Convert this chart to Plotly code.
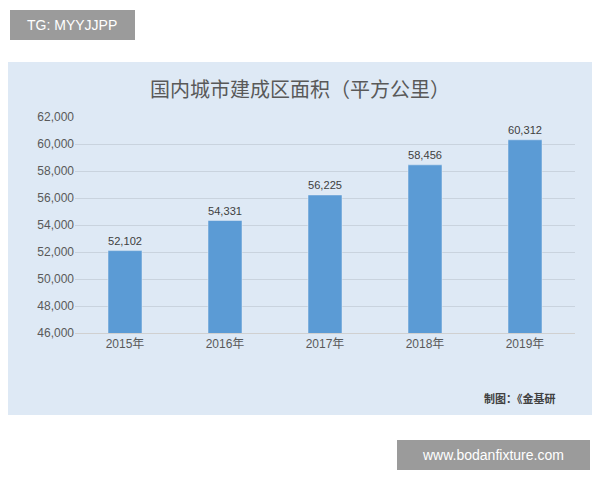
import plotly.graph_objects as go

years = ["2015年", "2016年", "2017年", "2018年", "2019年"]
area = [52102, 54331, 56225, 58456, 60312]
y_ticks = list(range(46000, 62001, 2000))

W, H = 600, 480
OFF = 8  # page body margin
def px(x): return (x - OFF) / W
def py(y): return 1 - (y - OFF) / H

fig = go.Figure(go.Bar(
    x=years, y=area, width=0.34, marker_color="#5b9bd5",
    text=[f"{v:,}" for v in area], textposition="outside",
    textfont=dict(size=13, color="#404040"), cliponaxis=False,
))

shapes = [
    dict(type="rect", xref="paper", yref="paper", x0=px(0), x1=px(600), y0=py(415), y1=py(62),
         fillcolor="#dee9f5", line_width=0, layer="below"),
    dict(type="rect", xref="paper", yref="paper", x0=px(10), x1=px(135), y0=py(40), y1=py(10),
         fillcolor="#9b9b9b", line_width=0, layer="below"),
    dict(type="rect", xref="paper", yref="paper", x0=px(397), x1=px(590), y0=py(470), y1=py(440),
         fillcolor="#9b9b9b", line_width=0, layer="below"),
]
ann = [
    dict(text="国内城市建成区面积（平方公里）", x=px(300), y=py(90), font=dict(size=20, color="#595959")),
    dict(text="TG: MYYJJPP", x=px(72), y=py(25), font=dict(size=14, color="white")),
    dict(text="www.bodanfixture.com", x=px(493), y=py(455), font=dict(size=14, color="white")),
    dict(text="<b>制图：《金基研</b>", x=px(520), y=py(398), font=dict(size=11, color="#404040")),
]
for a in ann:
    a.update(xref="paper", yref="paper", showarrow=False, xanchor="center", yanchor="middle")

fig.update_layout(
    width=W, height=H, autosize=False, margin=dict(l=0, r=0, t=0, b=0, pad=0),
    paper_bgcolor="white", plot_bgcolor="rgba(0,0,0,0)",
    font=dict(family="Liberation Sans, Noto Sans CJK SC"),
    shapes=shapes, annotations=ann, showlegend=False,
    xaxis=dict(domain=[px(75), px(575)], showline=True, linecolor="#d0d0d0",
               tickfont=dict(size=12, color="#595959"), automargin=False),
    yaxis=dict(domain=[py(333), py(117)], range=[46000, 62000], tickvals=y_ticks,
               tickformat=",", showgrid=True, gridcolor="#c9d3de", automargin=False,
               tickfont=dict(size=12, color="#595959")),
)
fig.write_html("out.html")
